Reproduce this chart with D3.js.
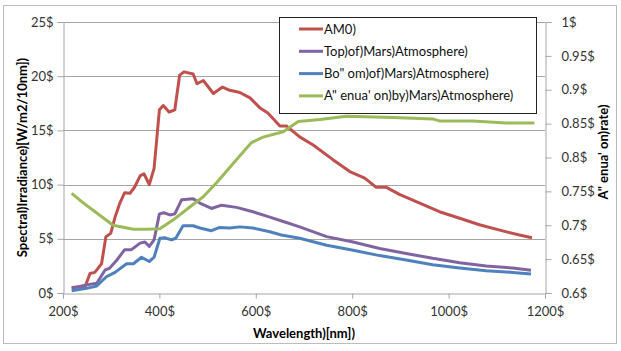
<!DOCTYPE html>
<html lang="en">
<head>
    <meta charset="UTF-8">
    <title>Mars spectrum</title>
    <script src="https://d3js.org/d3.v7.min.js"></script>
    <style>
        body { margin: 0; background: #fff; }
        text { font-family: Lato, "Open Sans", sans-serif; }
    </style>
</head>
<body>
    <script>

        // AM0 spectrum
        var am0 = [[218,0.5],[246,0.6],[256,1.8],[266,1.9],[280,2.7],[289,5.2],[299,5.5],[308,7.0],[318,8.3],
                   [328,9.25],[339,9.2],[349,9.8],[360,10.8],[368,11.0],[379,10.0],[389,11.5],[400,16.9],
                   [408,17.3],[420,16.7],[432,16.9],[442,20.1],[451,20.4],[470,20.2],[478,19.3],[491,19.6],
                   [512,18.4],[531,19.0],[546,18.7],[567,18.5],[588,18.0],[608,17.1],[625,16.6],[650,15.4],
                   [664,15.4],[691,14.4],[719,13.65],[760,12.3],[795,11.2],[826,10.6],[850,9.75],[871,9.75],
                   [898,9.1],[940,8.3],[981,7.5],[1023,6.9],[1064,6.3],[1106,5.8],[1147,5.35],[1173,5.1]]

        var topMars = [[218,0.45],[249,0.75],[270,0.9],[287,2.1],[297,2.3],[311,3.0],[328,4.0],[342,4.0],
                       [360,4.6],[370,4.7],[379,4.3],[389,4.9],[400,7.3],[409,7.4],[422,7.2],[432,7.3],
                       [446,8.6],[470,8.7],[484,8.3],[508,7.8],[529,8.1],[560,7.9],[594,7.5],[629,7.0],
                       [657,6.6],[691,6.1],[747,5.2],[802,4.7],[857,4.1],[912,3.65],[967,3.2],[1023,2.8],
                       [1078,2.5],[1133,2.3],[1171,2.1]]

        var bottomMars = [[218,0.2],[249,0.43],[270,0.65],[290,1.5],[308,1.9],[332,2.7],[346,2.7],[363,3.3],
                          [379,2.9],[389,3.3],[401,5.05],[411,5.1],[425,4.9],[434,5.05],[449,6.2],[470,6.2],
                          [484,6.0],[508,5.75],[525,6.05],[546,6.0],[567,6.1],[594,6.0],[629,5.65],[653,5.35],
                          [691,5.05],[747,4.4],[802,3.95],[857,3.45],[912,3.05],[967,2.6],[1023,2.3],
                          [1078,2.05],[1133,1.9],[1171,1.75]]

        // attenuation rate (right axis)
        var attenuation = [[218,0.747],[242,0.733],[270,0.718],[304,0.700],[346,0.694],[373,0.694],[401,0.695],
                           [429,0.708],[463,0.727],[491,0.742],[519,0.763],[553,0.791],[591,0.822],[615,0.830],
                           [657,0.838],[688,0.853],[733,0.856],[788,0.861],[885,0.859],[967,0.857],[981,0.854],
                           [1050,0.854],[1120,0.851],[1178,0.851]]

        var xTicks = [200, 400, 600, 800, 1000, 1200]
        var yTicks = [0, 5, 10, 15, 20, 25]
        var y2Ticks = [0.6, 0.65, 0.7, 0.75, 0.8, 0.85, 0.9, 0.95, 1]

        var seriesNames = ['AM0)', 'Top)of)Mars)Atmosphere)', 'Bo" om)of)Mars)Atmosphere)', 'A" enua\' on)by)Mars)Atmosphere)']
        var colors = ['#C0504D', '#8064A2', '#4F81BD', '#9BBB59']

        var w = 621, h = 351
        var plotL = 63, plotR = 545, plotT = 22, plotB = 293

        var svg = d3.select('body')
                    .append('svg')
                    .attr('width', w)
                    .attr('height', h)

        // outer chart border
        svg.append('rect')
            .attr('x', 3.5).attr('y', 5.5)
            .attr('width', 613).attr('height', 338)
            .attr('fill', 'none')
            .attr('stroke', '#bcbcbc')

        var xScale = d3.scaleLinear().domain([200, 1200]).range([plotL, plotR])
        var yScale = d3.scaleLinear().domain([0, 25]).range([plotB, plotT])
        var y2Scale = d3.scaleLinear().domain([0.6, 1]).range([plotB, plotT])

        // gridlines
        svg.append('g')
            .selectAll('line')
            .data(yTicks.slice(1))
            .enter()
            .append('line')
            .attr('x1', plotL).attr('x2', plotR)
            .attr('y1', d => Math.round(yScale(d)) + 0.5)
            .attr('y2', d => Math.round(yScale(d)) + 0.5)
            .attr('stroke', '#a6a6a6')

        var fmt = d => d + '$'

        var axisL = svg.append('g')
            .attr('transform', 'translate(' + (plotL + 0.5) + ',0)')
            .call(d3.axisLeft(yScale).tickValues(yTicks).tickFormat(fmt).tickSizeOuter(0).tickSize(6).tickPadding(4))

        var axisB = svg.append('g')
            .attr('transform', 'translate(0,' + (plotB + 0.5) + ')')
            .call(d3.axisBottom(xScale).tickValues(xTicks).tickFormat(fmt).tickSizeOuter(0).tickSize(5).tickPadding(8))

        var axisR = svg.append('g')
            .attr('transform', 'translate(' + (plotR + 0.5) + ',0)')
            .call(d3.axisRight(y2Scale).tickValues(y2Ticks).tickFormat(fmt).tickSizeOuter(0).tickSize(6).tickPadding(10))

        ;[axisL, axisB, axisR].forEach(function (g) {
            g.select('.domain').attr('stroke', '#a6a6a6')
            g.selectAll('.tick line').attr('stroke', '#a6a6a6')
            g.selectAll('.tick text').attr('fill', '#333').style('font-size', '13px').style('font-family', 'Lato, sans-serif')
        })

        // lines
        var line = d3.line().x(d => xScale(d[0])).y(d => yScale(d[1]))
        var line2 = d3.line().x(d => xScale(d[0])).y(d => y2Scale(d[1]))

        var lineData = [am0, topMars, bottomMars]
        lineData.forEach(function (data, i) {
            svg.append('path')
                .datum(data)
                .attr('d', line)
                .attr('fill', 'none')
                .attr('stroke', colors[i])
                .attr('stroke-width', 3)
                .attr('stroke-linejoin', 'round')
        })

        svg.append('path')
            .datum(attenuation)
            .attr('d', line2)
            .attr('fill', 'none')
            .attr('stroke', colors[3])
            .attr('stroke-width', 3)
            .attr('stroke-linejoin', 'round')

        // legend
        var legend = svg.append('g').attr('transform', 'translate(279,17)')
        legend.append('rect')
            .attr('x', 0.5).attr('y', 0.5)
            .attr('width', 257).attr('height', 96)
            .attr('fill', '#fff')
            .attr('stroke', '#222')

        var items = legend.selectAll('.item')
            .data(seriesNames)
            .enter()
            .append('g')
            .attr('transform', (d, i) => 'translate(0,' + (12 + i * 22.3) + ')')

        items.append('line')
            .attr('x1', 20).attr('x2', 44)
            .attr('stroke', (d, i) => colors[i])
            .attr('stroke-width', 3)

        items.append('text')
            .attr('x', 45)
            .attr('dy', '0.35em')
            .style('font-size', '13px')
            .attr('fill', '#111')
            .text(d => d)

        // axis titles
        svg.append('text')
            .attr('transform', 'translate(22,' + ((plotT + plotB) / 2) + ') rotate(-90)')
            .attr('text-anchor', 'middle')
            .attr('dy', '0.35em')
            .style('font-size', '13px')
            .style('font-weight', 'bold')
            .text('Spectral)Irradiance)[W/m2/10nm])')

        svg.append('text')
            .attr('transform', 'translate(603,152) rotate(-90)')
            .attr('text-anchor', 'middle')
            .attr('dy', '0.35em')
            .style('font-size', '13px')
            .style('font-weight', 'bold')
            .text('A" enua\' on)rate)')

        svg.append('text')
            .attr('x', (plotL + plotR) / 2)
            .attr('y', 333)
            .attr('text-anchor', 'middle')
            .attr('dy', '0.35em')
            .style('font-size', '13px')
            .style('font-weight', 'bold')
            .text('Wavelength)[nm])')

    </script>
</body>
</html>
